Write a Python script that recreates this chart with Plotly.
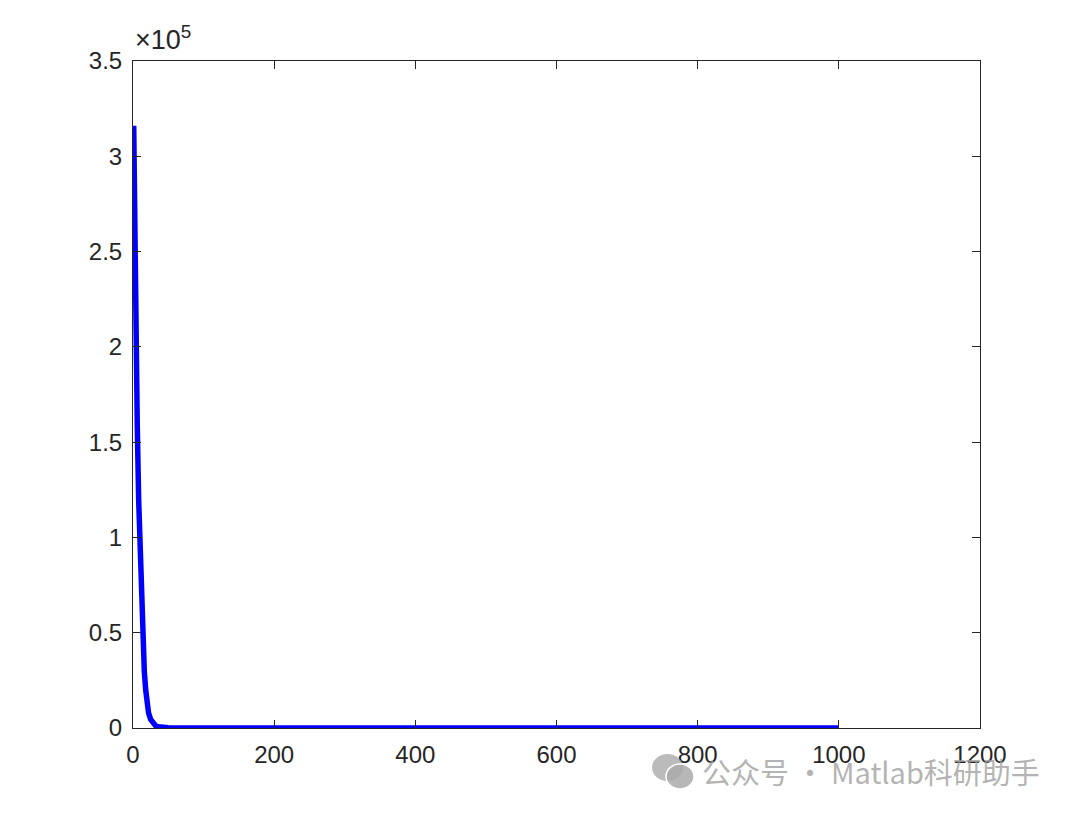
import plotly.graph_objects as go

# Data (iteration vs. objective value)
iterations = [1, 2, 3, 4, 5, 6, 8, 10, 12, 14, 16, 18, 20, 22, 25, 28, 32, 36, 40,
              50, 60, 80, 100, 200, 300, 400, 500, 600, 700, 800, 900, 1000]
values = [316000, 275000, 245000, 215000, 185000, 160000, 120000, 92000, 70000,
          45000, 30000, 20000, 13000, 8000, 4500, 2500, 1200, 600, 300,
          100, 50, 30, 20, 10, 8, 6, 5, 4, 3, 3, 2, 2]

x_ticks = [0, 200, 400, 600, 800, 1000, 1200]
y_ticks = [0, 50000, 100000, 150000, 200000, 250000, 300000, 350000]
y_tick_labels = ["0", "0.5", "1", "1.5", "2", "2.5", "3", "3.5"]

OFF = 8  # default page body margin
W, H = 1080 - OFF, 813 - OFF
L, R, T, B = 133, 980, 61, 728  # target plot box in window pixels

fig = go.Figure()
fig.add_trace(go.Scatter(x=iterations, y=values, mode="lines",
                         line=dict(color="#0000FF", width=5.5), showlegend=False))

FONT = "Liberation Sans, Arial"
axis_common = dict(showline=True, linecolor="#262626", linewidth=1, mirror="ticks",
                   ticks="inside", ticklen=8, tickcolor="#262626", tickwidth=1,
                   showgrid=False, zeroline=False,
                   tickfont=dict(family=FONT, size=24, color="#262626"))

fig.update_xaxes(range=[0, 1200], tickvals=x_ticks, ticklabelstandoff=5, **axis_common)
fig.update_yaxes(range=[0, 350000], tickvals=y_ticks, ticktext=y_tick_labels,
                 ticklabelstandoff=5, **axis_common)

def px(xp):
    return (xp - L) / (R - L)

def py(yp):
    return (B - yp) / (B - T)

fig.add_annotation(x=px(133), y=py(57), xref="paper", yref="paper", xanchor="left", yanchor="bottom",
                   text="×10<sup>5</sup>", showarrow=False,
                   font=dict(family=FONT, size=27, color="#262626"))

# Watermark
fig.add_shape(type="circle", xref="paper", yref="paper",
              x0=px(652), x1=px(683), y0=py(781), y1=py(754),
              fillcolor="rgba(170,170,170,0.8)", line=dict(width=0))
fig.add_shape(type="circle", xref="paper", yref="paper",
              x0=px(666), x1=px(694), y0=py(789), y1=py(764),
              fillcolor="rgba(170,170,170,0.85)", line=dict(color="white", width=1.5))
fig.add_annotation(x=px(700), y=py(771), xref="paper", yref="paper", xanchor="left", yanchor="middle",
                   text="公众号 · Matlab科研助手", showarrow=False,
                   font=dict(family="Noto Sans CJK SC", size=29, color="rgba(160,160,160,0.8)"))

fig.update_layout(width=W, height=H,
                  margin=dict(l=L - OFF, r=W + OFF - R, t=T - OFF, b=H + OFF - B),
                  paper_bgcolor="white", plot_bgcolor="white")

fig.write_html("out.html")
